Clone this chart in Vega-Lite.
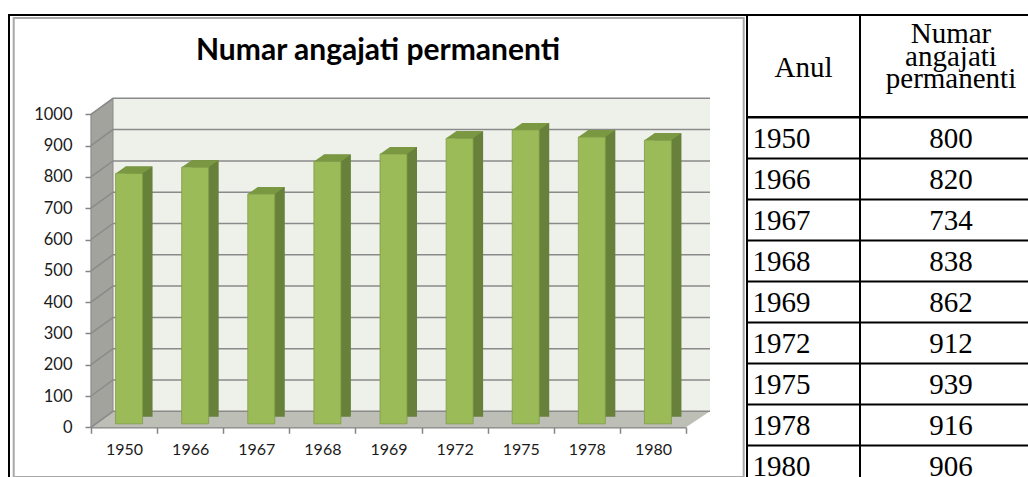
{
  "$schema": "https://vega.github.io/schema/vega-lite/v6.json",
  "background": "white",
  "padding": {"left": 8, "top": 13, "right": 0, "bottom": 0},
  "bounds": "flush",
  "spacing": 0,
  "datasets": {
    "angajati": [
      {"an": "1950", "n": 800},
      {"an": "1966", "n": 820},
      {"an": "1967", "n": 734},
      {"an": "1968", "n": 838},
      {"an": "1969", "n": 862},
      {"an": "1972", "n": 912},
      {"an": "1975", "n": 939},
      {"an": "1978", "n": 916},
      {"an": "1980", "n": 906}
    ],
    "grila": [
      {"v": 0}, {"v": 100}, {"v": 200}, {"v": 300}, {"v": 400}, {"v": 500},
      {"v": 600}, {"v": 700}, {"v": 800}, {"v": 900}, {"v": 1000}
    ],
    "antet": [{"anul": "Anul", "numar": "Numar angajati permanenti"}],
    "unu": [{"k": 1}]
  },
  "config": {
    "view": {"stroke": "black", "strokeWidth": 2},
    "text": {"font": "Liberation Serif", "fontSize": 29, "color": "black"}
  },
  "hconcat": [
    {
      "width": 738,
      "height": 471,
      "title": {
        "text": "Numar angajati permanenti",
        "font": "Lato",
        "fontSize": 30,
        "fontWeight": "bold",
        "color": "black",
        "anchor": "middle",
        "frame": "group",
        "offset": -52
      },
      "layer": [
        {
          "data": {"name": "unu"},
          "mark": {"type": "point", "shape": "M22,-16 L619,-16 L619,-328.6 L22,-328.6 Z", "size": 4, "filled": true, "opacity": 1, "color": "#eef0ea"},
          "encoding": {
            "x": {"datum": "1950", "type": "ordinal", "bandPosition": 0, "title": null},
            "y": {"datum": 0, "type": "quantitative", "title": null}
          }
        },
        {
          "data": {"name": "unu"},
          "mark": {"type": "point", "shape": "M0,0 L22,-16 L22,-328.6 L0,-313 Z", "size": 4, "filled": true, "opacity": 1, "color": "#a2a39c", "stroke": "#8a8a8a", "strokeWidth": 1},
          "encoding": {
            "x": {"datum": "1950", "type": "ordinal", "bandPosition": 0, "title": null},
            "y": {"datum": 0, "type": "quantitative", "title": null}
          }
        },
        {
          "data": {"name": "unu"},
          "mark": {"type": "point", "shape": "M0,0 L595,0 L619,-16 L22,-16 Z", "size": 4, "filled": true, "opacity": 1, "color": "#bdbeb6"},
          "encoding": {
            "x": {"datum": "1950", "type": "ordinal", "bandPosition": 0, "title": null},
            "y": {"datum": 0, "type": "quantitative", "title": null}
          }
        },
        {
          "data": {"name": "grila"},
          "mark": {"type": "point", "shape": "M0,0 L22,-16 L619,-16", "size": 4, "filled": false, "opacity": 1, "color": "#8a8a8a", "strokeWidth": 1.5},
          "encoding": {
            "x": {"datum": "1950", "type": "ordinal", "bandPosition": 0, "title": null},
            "y": {"field": "v", "type": "quantitative", "title": null}
          }
        },
        {
          "data": {"name": "unu"},
          "mark": {"type": "point", "shape": "M-77.3,-409.3 L652.7,-409.3 L652.7,49.7 L-77.3,49.7 Z", "size": 4, "filled": false, "opacity": 1, "color": "#a8a8a8", "strokeWidth": 2},
          "encoding": {
            "x": {"datum": "1950", "type": "ordinal", "bandPosition": 0, "title": null},
            "y": {"datum": 0, "type": "quantitative", "title": null}
          }
        },
        {
          "data": {"name": "angajati"},
          "mark": {"type": "bar", "width": 27, "xOffset": 15, "yOffset": -10.5, "y2Offset": -10.5, "color": "#67813a"},
          "encoding": {
            "x": {"field": "an", "type": "ordinal", "title": null},
            "y": {"field": "n", "type": "quantitative", "title": null},
            "y2": {"datum": 0}
          }
        },
        {
          "data": {"name": "angajati"},
          "mark": {"type": "point", "shape": "M-13.5,0 L13.5,0 L23.5,-7 L-3.5,-7 Z", "size": 4, "filled": true, "opacity": 1, "color": "#7a9741", "xOffset": 5, "yOffset": -3.5},
          "encoding": {
            "x": {"field": "an", "type": "ordinal", "title": null},
            "y": {"field": "n", "type": "quantitative", "title": null}
          }
        },
        {
          "data": {"name": "angajati"},
          "mark": {"type": "bar", "width": 27, "xOffset": 5, "yOffset": -3.5, "y2Offset": -3.5, "fill": "#9bbb59", "stroke": "#7f9c47", "strokeWidth": 0.8},
          "encoding": {
            "x": {
              "field": "an",
              "type": "ordinal",
              "title": null,
              "scale": {"type": "band", "range": [82, 677], "paddingInner": 0, "paddingOuter": 0},
              "axis": {
                "orient": "bottom",
                "offset": -58.7,
                "tickBand": "extent",
                "tickSize": 6,
                "tickColor": "#868686",
                "tickWidth": 1.5,
                "domainColor": "#868686",
                "domainWidth": 1.5,
                "labelFont": "Lato",
                "labelFontSize": 16,
                "labelColor": "#1a1a1a",
                "labelPadding": 16,
                "labelAngle": 0,
                "labelAlign": "center",
                "labelOffset": 0,
                "grid": false,
                "title": null
              }
            },
            "y": {
              "field": "n",
              "type": "quantitative",
              "title": null,
              "scale": {"domain": [0, 1000], "range": [412.3, 99.3], "nice": false, "zero": true},
              "axis": {
                "orient": "left",
                "offset": -82,
                "values": [0, 100, 200, 300, 400, 500, 600, 700, 800, 900, 1000],
                "format": "d",
                "tickSize": 6,
                "tickColor": "#868686",
                "tickWidth": 1.5,
                "domainColor": "#868686",
                "domainWidth": 1.5,
                "labelFont": "Lato",
                "labelFontSize": 16.5,
                "labelColor": "#1a1a1a",
                "labelPadding": 13,
                "grid": false,
                "title": null
              }
            },
            "y2": {"datum": 0}
          }
        }
      ]
    },
    {
      "concat": [
        {
          "width": 113,
          "height": 102,
          "data": {"name": "antet"},
          "mark": {"type": "text", "baseline": "alphabetic", "dy": 11},
          "encoding": {
            "y": {"field": "anul", "type": "nominal", "title": null, "scale": {"type": "band", "paddingInner": 0, "paddingOuter": 0}, "axis": null},
            "text": {"field": "anul"}
          }
        },
        {
          "width": 182,
          "height": 102,
          "data": {"name": "antet"},
          "mark": {"type": "text", "baseline": "alphabetic", "dy": -23, "lineBreak": " ", "lineHeight": 22.5},
          "encoding": {
            "y": {"field": "numar", "type": "nominal", "title": null, "scale": {"type": "band", "paddingInner": 0, "paddingOuter": 0}, "axis": null},
            "text": {"field": "numar"}
          }
        },
        {
          "width": 113,
          "height": 369,
          "data": {"name": "angajati"},
          "mark": {"type": "text", "align": "left", "baseline": "alphabetic", "dx": -51, "dy": 10},
          "encoding": {
            "y": {
              "field": "an",
              "type": "ordinal",
              "title": null,
              "scale": {"type": "band", "paddingInner": 0, "paddingOuter": 0},
              "axis": {"grid": true, "tickBand": "extent", "gridColor": "black", "gridWidth": 2, "labels": false, "ticks": false, "domain": false, "title": null}
            },
            "text": {"field": "an"}
          }
        },
        {
          "width": 182,
          "height": 369,
          "data": {"name": "angajati"},
          "mark": {"type": "text", "align": "center", "baseline": "alphabetic", "dy": 10},
          "encoding": {
            "y": {
              "field": "an",
              "type": "ordinal",
              "title": null,
              "scale": {"type": "band", "paddingInner": 0, "paddingOuter": 0},
              "axis": {"grid": true, "tickBand": "extent", "gridColor": "black", "gridWidth": 2, "labels": false, "ticks": false, "domain": false, "title": null}
            },
            "text": {"field": "n", "type": "nominal"}
          }
        }
      ],
      "columns": 2,
      "spacing": 0,
      "bounds": "flush"
    }
  ]
}
